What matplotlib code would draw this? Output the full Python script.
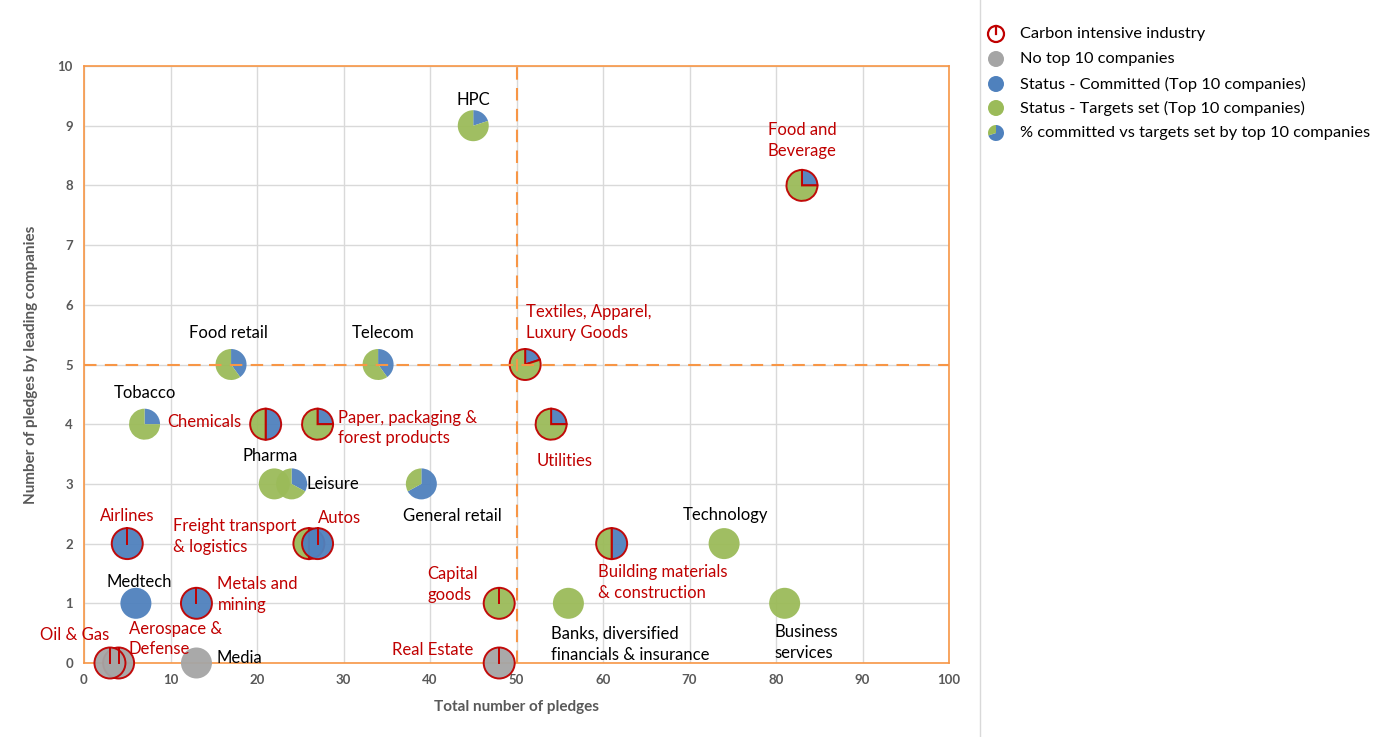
import matplotlib
matplotlib.use("Agg")
import matplotlib.pyplot as plt
from matplotlib.patches import Wedge, Circle
from matplotlib.lines import Line2D
from matplotlib.transforms import ScaledTranslation

plt.rcParams["font.family"] = ["Lato", "DejaVu Sans"]

BLUE = "#4F81BD"
GREEN = "#9BBB59"
GREY = "#A5A5A5"
RED = "#C00000"
ORANGE = "#F79646"

# sector data
sectors = [
    "HPC", "Food and\nBeverage", "Textiles, Apparel,\nLuxury Goods", "Food retail",
    "Telecom", "Tobacco", "Chemicals", "Paper, packaging &\nforest products",
    "Utilities", "Pharma", "Leisure", "General retail", "Airlines",
    "Freight transport\n& logistics", "Autos", "Technology",
    "Building materials\n& construction", "Medtech", "Metals and\nmining",
    "Capital\ngoods", "Banks, diversified\nfinancials & insurance",
    "Business\nservices", "Aerospace &\nDefense", "Oil & Gas", "Media", "Real Estate",
]
total_pledges = [45, 83, 51, 17, 34, 7, 21, 27, 54, 22, 24, 39, 5, 26, 27, 74,
                 61, 6, 13, 48, 56, 81, 4, 3, 13, 48]
leader_pledges = [9, 8, 5, 5, 5, 4, 4, 4, 4, 3, 3, 3, 2, 2, 2, 2, 2, 1, 1, 1, 1,
                  1, 0, 0, 0, 0]
# share of top 10 companies "committed" (None = no top 10 companies)
committed_share = [0.2, 0.25, 0.2, 0.4, 0.4, 0.25, 0.5, 0.25, 0.25, 0.0, 0.33,
                   0.67, 1.0, 0.5, 1.0, 0.0, 0.5, 1.0, 1.0, 0.0, 0.0, 0.0,
                   None, None, None, None]
carbon_intensive = [False, True, True, False, False, False, True, True, True,
                    False, False, False, True, True, True, False, True, False,
                    True, True, False, False, True, True, False, True]

# label placement (offset in pixels from the point, horizontal alignment)
label_offsets = [(0, 26), (0, 45), (1, 42), (-3, 31), (5, 31), (0, 31),
                 (-24, 2), (20, -4), (14, -37), (-4, 28), (15, 0), (31, -32),
                 (0, 28), (-136, 7), (22, 26), (1, 29), (-14, -39), (3, 21),
                 (21, 9), (-72, 19), (-17, -41), (-10, -39), (10, 24),
                 (-70, 28), (20, 5), (-107, 13)]
label_ha = ["center", "center", "left", "center", "center", "center", "right",
            "left", "center", "center", "left", "center", "center", "left",
            "center", "center", "left", "center", "left", "left", "left",
            "left", "left", "left", "left", "left"]

fig = plt.figure(figsize=(13.93, 7.37), dpi=100)
ax = fig.add_axes([84 / 1393, 1 - 663 / 737, (949 - 84) / 1393, (663 - 66) / 737])


def make_pie(trans, r, share, carbon, zorder=3, alpha=0.95):
    edge = RED if carbon else "none"
    lw = 1.4 if carbon else 0
    if share is None or share in (0.0, 1.0):
        face = GREY if share is None else (BLUE if share == 1.0 else GREEN)
        patches = [Circle((0, 0), r, facecolor=face, edgecolor=edge, lw=lw)]
    else:
        patches = [
            Wedge((0, 0), r, 90 - 360 * share, 90, facecolor=BLUE, edgecolor=edge, lw=lw),
            Wedge((0, 0), r, 90, 450 - 360 * share, facecolor=GREEN, edgecolor=edge, lw=lw),
        ]
    for p in patches:
        p.set_transform(trans)
        p.set_clip_on(False)
        p.set_zorder(zorder)
        p.set_alpha(alpha)
    return patches


R = 0.155
for name, x, y, share, carbon, off, ha in zip(sectors, total_pledges, leader_pledges,
                                             committed_share, carbon_intensive,
                                             label_offsets, label_ha):
    trans = fig.dpi_scale_trans + ScaledTranslation(x, y, ax.transData)
    for p in make_pie(trans, R, share, carbon):
        ax.add_artist(p)
        p.set_transform(trans)
    if carbon and (share is None or share in (0.0, 1.0)):
        ln = Line2D([0, 0], [0, R], color=RED, lw=1.4, transform=trans, zorder=3.5)
        ln.set_clip_on(False)
        ax.add_artist(ln)
    ax.annotate(name, (x, y), xytext=off, textcoords="offset pixels",
                ha=ha, va="center", fontsize=12, linespacing=1.35,
                color=RED if carbon else "black", zorder=6)

ax.axvline(50, color=ORANGE, lw=1.5, ls=(0, (6, 4)), zorder=4)
ax.axhline(5, color=ORANGE, lw=1.5, ls=(0, (6, 4)), zorder=4)

ax.set_xlim(0, 100)
ax.set_ylim(0, 10)
ax.set_xticks(range(0, 101, 10))
ax.set_yticks(range(0, 11, 1))
ax.grid(True, color="#D9D9D9", lw=1)
ax.set_axisbelow(True)
ax.tick_params(length=0, pad=8, labelsize=9.5, labelcolor="#595959")
for lab in ax.get_xticklabels() + ax.get_yticklabels():
    lab.set_fontweight("bold")
for sp in ax.spines.values():
    sp.set_color(ORANGE)
    sp.set_linewidth(1.2)
ax.set_xlabel("Total number of pledges", fontsize=11, fontweight="bold",
              color="#595959", labelpad=10)
ax.set_ylabel("Number of pledges by leading companies", fontsize=11,
              fontweight="bold", color="#595959", labelpad=14)

# separator line to the legend area
fig.add_artist(Line2D([980 / 1393, 980 / 1393], [0, 1], color="#D9D9D9", lw=1,
                      transform=fig.transFigure))

# legend drawn by hand
legend_labels = [
    "Carbon intensive industry",
    "No top 10 companies",
    "Status - Committed (Top 10 companies)",
    "Status - Targets set (Top 10 companies)",
    "% committed vs targets set by top 10 companies",
]
legend_share = [None, None, 1.0, 0.0, 0.7]
legend_y = [34, 59, 84, 108, 133]
for text, share, py in zip(legend_labels, legend_share, legend_y):
    fx, fy = 996 / 1393, 1 - py / 737
    trans = fig.dpi_scale_trans + ScaledTranslation(fx, fy, fig.transFigure)
    rl = 0.08
    if text.startswith("Carbon"):
        c = Circle((0, 0), rl, facecolor="white", edgecolor=RED, lw=1.6, transform=trans)
        fig.add_artist(c)
        fig.add_artist(Line2D([0, 0], [0, rl], color=RED, lw=1.6, transform=trans))
    else:
        for p in make_pie(trans, rl, share, False, alpha=1):
            fig.add_artist(p)
    fig.text(1020 / 1393, fy, text, fontsize=11.8, va="center", ha="left")

fig.savefig("out.png", dpi=100)
